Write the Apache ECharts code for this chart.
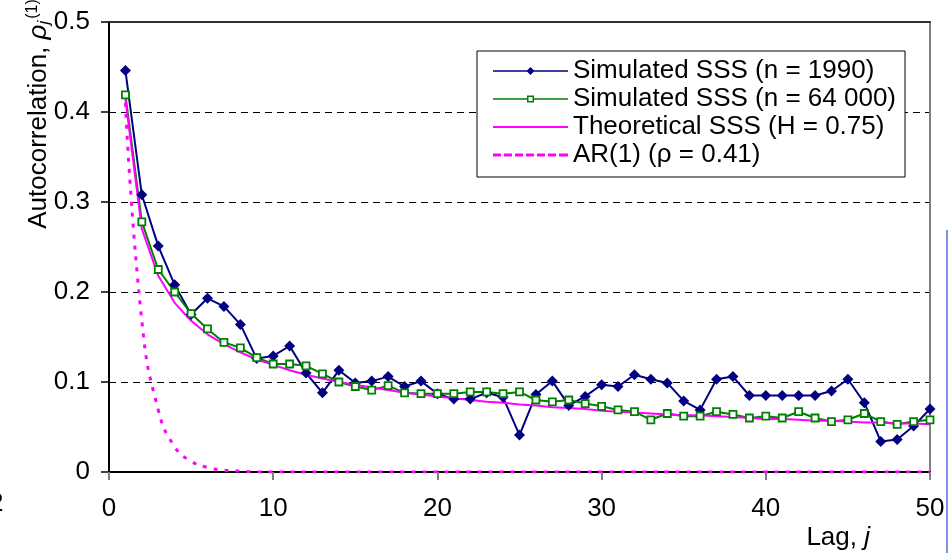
<!DOCTYPE html>
<html>
<head>
<meta charset="utf-8">
<script src="https://cdn.jsdelivr.net/npm/echarts/dist/echarts.min.js"></script>
<style>
html,body{margin:0;padding:0;background:#fff;}
#chart{width:952px;height:553px;}
</style>
</head>
<body>
<div id="chart"></div>
<script>
// ---- data ----
var lags = [1,2,3,4,5,6,7,8,9,10,11,12,13,14,15,16,17,18,19,20,21,22,23,24,25,26,27,28,29,30,31,32,33,34,35,36,37,38,39,40,41,42,43,44,45,46,47,48,49,50];
var sss1990 = [0.446,0.308,0.251,0.208,0.175,0.193,0.184,0.164,0.126,0.129,0.140,0.110,0.088,0.113,0.099,0.101,0.106,0.095,0.101,0.087,0.081,0.081,0.088,0.083,0.041,0.086,0.101,0.074,0.084,0.097,0.095,0.108,0.103,0.099,0.079,0.069,0.103,0.106,0.085,0.085,0.085,0.085,0.085,0.090,0.103,0.077,0.034,0.036,0.051,0.070];
var sss64000 = [0.419,0.278,0.225,0.200,0.176,0.159,0.144,0.138,0.127,0.120,0.120,0.118,0.109,0.100,0.095,0.091,0.096,0.088,0.087,0.087,0.087,0.089,0.089,0.087,0.089,0.080,0.078,0.080,0.076,0.073,0.069,0.067,0.058,0.065,0.062,0.062,0.067,0.064,0.060,0.062,0.060,0.067,0.060,0.056,0.058,0.065,0.056,0.053,0.056,0.058];
var theoretical = [0.414,0.270,0.218,0.188,0.168,0.153,0.142,0.133,0.125,0.119,0.113,0.108,0.104,0.100,0.097,0.094,0.091,0.088,0.086,0.084,0.082,0.080,0.078,0.077,0.075,0.074,0.072,0.071,0.070,0.068,0.067,0.066,0.065,0.064,0.063,0.063,0.062,0.061,0.060,0.059,0.059,0.058,0.057,0.057,0.056,0.055,0.055,0.054,0.054,0.053];
var ar1 = [0.410,0.168,0.069,0.028,0.012,0.005,0.002,0.001,0,0,0,0,0,0,0,0,0,0,0,0,0,0,0,0,0,0,0,0,0,0,0,0,0,0,0,0,0,0,0,0,0,0,0,0,0,0,0,0,0,0];
var seriesNames = ['Simulated SSS (n = 1990)','Simulated SSS (n = 64 000)','Theoretical SSS (H = 0.75)','AR(1) (\u03c1 = 0.41)'];
var xTicks = {min:0, max:50, interval:10};
var yTicks = {min:0, max:0.5, interval:0.1};

function pairs(xs, ys){ return xs.map(function(x,i){ return [x, ys[i]]; }); }

var FONT = "'Liberation Sans', Arial, sans-serif";
var NAVY = '#000080', GREEN = '#008000', MAG = '#ff00ff';

var iconNavy = 'path://M0,4.25 L75,4.25 L75,5.75 L0,5.75 Z M37.5,1 L41.5,5 L37.5,9 L33.5,5 Z';
var iconGreen = 'path://M0,4.25 L34,4.25 L34,5.75 L0,5.75 Z M41,4.25 L75,4.25 L75,5.75 L41,5.75 Z M34,1.5 L41,1.5 L41,8.5 L34,8.5 Z M35.5,3 L35.5,7 L39.5,7 L39.5,3 Z';
var iconMag = 'path://M0,4 L75,4 L75,6 L0,6 Z';
var iconDash = 'path://M0,3.5 L8,3.5 L8,6.5 L0,6.5 Z M11,3.5 L19,3.5 L19,6.5 L11,6.5 Z M22,3.5 L30,3.5 L30,6.5 L22,6.5 Z M33,3.5 L41,3.5 L41,6.5 L33,6.5 Z M44,3.5 L52,3.5 L52,6.5 L44,6.5 Z M55,3.5 L63,3.5 L63,6.5 L55,6.5 Z M66,3.5 L75,3.5 L75,6.5 L66,6.5 Z';

var chart = echarts.init(document.getElementById('chart'), null, {renderer:'canvas'});
chart.setOption({
  animation: false,
  backgroundColor: '#fff',
  textStyle: {fontFamily: FONT},
  grid: {left: 109, right: 22, top: 22, bottom: 81, containLabel: false},
  xAxis: [{
    type: 'value', min: xTicks.min, max: xTicks.max, interval: xTicks.interval,
    axisLine: {onZero: false, lineStyle: {color: '#000', width: 2}},
    axisTick: {show: true, length: 8, lineStyle: {color: '#808080', width: 2}},
    axisLabel: {color: '#000', fontSize: 26, fontFamily: FONT, margin: 24},
    splitLine: {show: false}
  }, {
    type: 'value', position: 'top', min: xTicks.min, max: xTicks.max,
    axisLine: {show: true, onZero: false, lineStyle: {color: '#303030', width: 2}},
    axisTick: {show: false}, axisLabel: {show: false}, splitLine: {show: false}
  }],
  yAxis: [{
    type: 'value', min: yTicks.min, max: yTicks.max, interval: yTicks.interval,
    axisLine: {show: true, onZero: false, lineStyle: {color: '#000', width: 2}},
    axisTick: {show: true, length: 8, lineStyle: {color: '#000', width: 1.5}},
    axisLabel: {color: '#000', fontSize: 26, fontFamily: FONT, margin: 19},
    splitLine: {show: true, lineStyle: {color: '#000', width: 1, type: [7, 5]}}
  }, {
    type: 'value', position: 'right', min: yTicks.min, max: yTicks.max,
    axisLine: {show: true, onZero: false, lineStyle: {color: '#808080', width: 2}},
    axisTick: {show: false}, axisLabel: {show: false}, splitLine: {show: false}
  }],
  legend: {
    orient: 'vertical', left: 477, top: 51,
    backgroundColor: '#fff', borderColor: '#000', borderWidth: 1, borderRadius: 0,
    padding: [6, 9, 8, 16],
    itemWidth: 75, itemHeight: 10, itemGap: 0,
    selectedMode: false,
    textStyle: {color: '#000', fontSize: 26, fontFamily: FONT, lineHeight: 28},
    itemStyle: {borderWidth: 0},
    data: [
      {name: seriesNames[0], icon: iconNavy, itemStyle: {color: NAVY, borderWidth: 0}},
      {name: seriesNames[1], icon: iconGreen, itemStyle: {color: GREEN, borderWidth: 0}},
      {name: seriesNames[2], icon: iconMag, itemStyle: {color: MAG, borderWidth: 0}},
      {name: seriesNames[3], icon: iconDash, itemStyle: {color: MAG, borderWidth: 0}}
    ]
  },
  series: [{
    name: seriesNames[0], type: 'line', data: pairs(lags, sss1990),
    symbol: 'diamond', symbolSize: 11,
    itemStyle: {color: NAVY},
    lineStyle: {color: NAVY, width: 2}
  }, {
    name: seriesNames[1], type: 'line', data: pairs(lags, sss64000),
    symbol: 'rect', symbolSize: 7,
    itemStyle: {color: '#fff', borderColor: GREEN, borderWidth: 1.8},
    lineStyle: {color: GREEN, width: 2}
  }, {
    name: seriesNames[2], type: 'line', data: pairs(lags, theoretical),
    symbol: 'none', showSymbol: false,
    itemStyle: {color: MAG},
    lineStyle: {color: MAG, width: 2}
  }, {
    name: seriesNames[3], type: 'line', data: pairs(lags, ar1),
    symbol: 'none', showSymbol: false, smooth: 0.5,
    itemStyle: {color: MAG},
    lineStyle: {color: MAG, width: 3, type: [4, 7], cap: 'butt'}
  }],
  graphic: [{
    type: 'text', x: 39, y: 114, rotation: Math.PI / 2,
    style: {
      text: 'Autocorrelation, {it|\u03c1}{sub|j}{sup|(1)}',
      font: '26px ' + FONT, fill: '#000', align: 'center', verticalAlign: 'middle',
      rich: {
        it: {fontSize: 26, fontStyle: 'italic', fontFamily: FONT, fill: '#000'},
        sub: {fontSize: 17, fontStyle: 'italic', fontFamily: FONT, fill: '#000', verticalAlign: 'bottom', padding: [8, 2, 0, 0]},
        sup: {fontSize: 16, fontFamily: FONT, fill: '#000', verticalAlign: 'top', padding: [0, 0, 12, 0]}
      }
    }
  }, {
    type: 'text', x: 870, y: 538,
    style: {
      text: 'Lag, {it|j}',
      font: '26px ' + FONT, fill: '#000', align: 'right', verticalAlign: 'middle',
      rich: {it: {fontSize: 26, fontStyle: 'italic', fontFamily: FONT, fill: '#000'}}
    }
  }, {
    type: 'text', x: 3.5, y: 504,
    style: {text: '2', font: '26px ' + FONT, fill: '#000', align: 'right', verticalAlign: 'middle'}
  }, {
    type: 'line', shape: {x1: 947, y1: 230, x2: 947, y2: 553},
    style: {stroke: '#7f8ff0', lineWidth: 2}
  }]
});
</script>
</body>
</html>
